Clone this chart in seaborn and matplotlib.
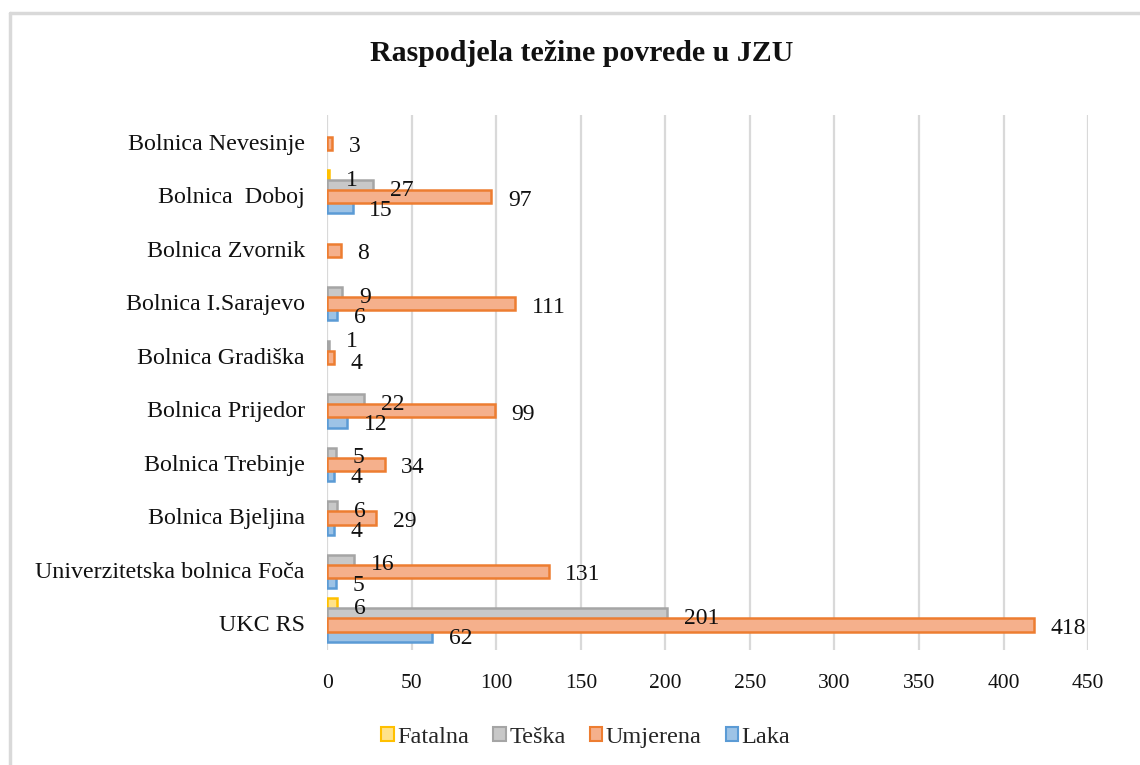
import numpy as np
import pandas as pd
import seaborn as sns
import matplotlib.pyplot as plt
from matplotlib.patches import Patch
from matplotlib.lines import Line2D

hospitals = ["Bolnica Nevesinje", "Bolnica  Doboj", "Bolnica Zvornik", "Bolnica I.Sarajevo",
             "Bolnica Gradiška", "Bolnica Prijedor", "Bolnica Trebinje", "Bolnica Bjeljina",
             "Univerzitetska bolnica Foča", "UKC RS"]
fatalna = [0, 1, 0, 0, 0, 0, 0, 0, 0, 6]
teska = [0, 27, 0, 9, 1, 22, 5, 6, 16, 201]
umjerena = [3, 97, 8, 111, 4, 99, 34, 29, 131, 418]
laka = [0, 15, 0, 6, 0, 12, 4, 4, 5, 62]
series = ["Fatalna", "Teška", "Umjerena", "Laka"]
xticks = [0, 50, 100, 150, 200, 250, 300, 350, 400, 450]

fills = ["#FFE28A", "#C8C8C8", "#F5B08C", "#9DC3E6"]
edges = ["#FFC000", "#A5A5A5", "#ED7D31", "#5B9BD5"]

rows = []
for name, vals in zip(series, [fatalna, teska, umjerena, laka]):
    for h, v in zip(hospitals, vals):
        rows.append({"bolnica": h, "serija": name, "vrijednost": v})
df = pd.DataFrame(rows)

sns.set_theme(style="white")
plt.rcParams["font.family"] = ["Liberation Serif", "DejaVu Serif"]

fig = plt.figure(figsize=(11.4, 7.65), dpi=100)
ax = fig.add_axes([0.287, 0.150, 0.6675, 0.6997])

sns.barplot(data=df, y="bolnica", x="vrijednost", hue="serija", hue_order=series,
            order=hospitals, orient="h", palette=fills, width=0.75, errorbar=None,
            saturation=1, legend=False, ax=ax)

zorders = [3, 3, 5, 4]
for i, cont in enumerate(ax.containers):
    labels = []
    for p in cont:
        c = p.get_y() + p.get_height() / 2 - 0.065
        h = 0.245
        p.set_y(c - h / 2)
        p.set_height(h)
        p.set_edgecolor(edges[i])
        p.set_linewidth(1.8)
        p.set_zorder(zorders[i])
        w = p.get_width()
        if w <= 0:
            p.set_visible(False)
            labels.append("")
        else:
            labels.append(f"{int(round(w))}")
    texts = ax.bar_label(cont, labels=labels, padding=12, fontsize=17, color="#111111", zorder=6)
    for j, t in enumerate(texts):
        dy = -2.5
        if hospitals[j] == "Bolnica Gradiška" and series[i] == "Teška":
            dy = 4
        if hospitals[j] == "Bolnica Gradiška" and series[i] == "Umjerena":
            dy = -4.5
        t.xyann = (t.xyann[0], dy)

ax.set_xlim(0, 450)
ax.set_xticks(xticks)
ax.set_xticklabels([str(t) for t in xticks], fontsize=15.5)
ax.tick_params(axis="x", length=0, pad=17)
ax.tick_params(axis="y", length=0, pad=16, labelsize=17.3)
ax.set_xlabel("")
ax.set_ylabel("")
ax.grid(axis="x", color="#D9D9D9", linewidth=1.6, zorder=0)
ax.set_axisbelow(True)
for s in ax.spines.values():
    s.set_visible(False)
for lab in ax.get_yticklabels() + ax.get_xticklabels():
    lab.set_color("#111111")

fig.text(0.51, 0.930, "Raspodjela težine povrede u JZU", ha="center", va="center",
         fontsize=21.5, fontweight="bold", color="#111111")

handles = [Patch(facecolor=f, edgecolor=e, linewidth=1.5, label=s)
           for s, f, e in zip(series, fills, edges)]
fig.legend(handles=handles, loc="center", bbox_to_anchor=(0.514, 0.036), ncol=4,
           frameon=False, fontsize=17.5, handlelength=0.5, handleheight=0.5,
           handletextpad=0.15, columnspacing=1.0)

fig.add_artist(Line2D([10 / 1140, 1.0], [1 - 13 / 765, 1 - 13 / 765],
                      transform=fig.transFigure, color="#D9D9D9", linewidth=2.5))
fig.add_artist(Line2D([10 / 1140, 10 / 1140], [0.0, 1 - 13 / 765],
                      transform=fig.transFigure, color="#D9D9D9", linewidth=2.5))

fig.savefig("out.png", dpi=100, facecolor="white")
